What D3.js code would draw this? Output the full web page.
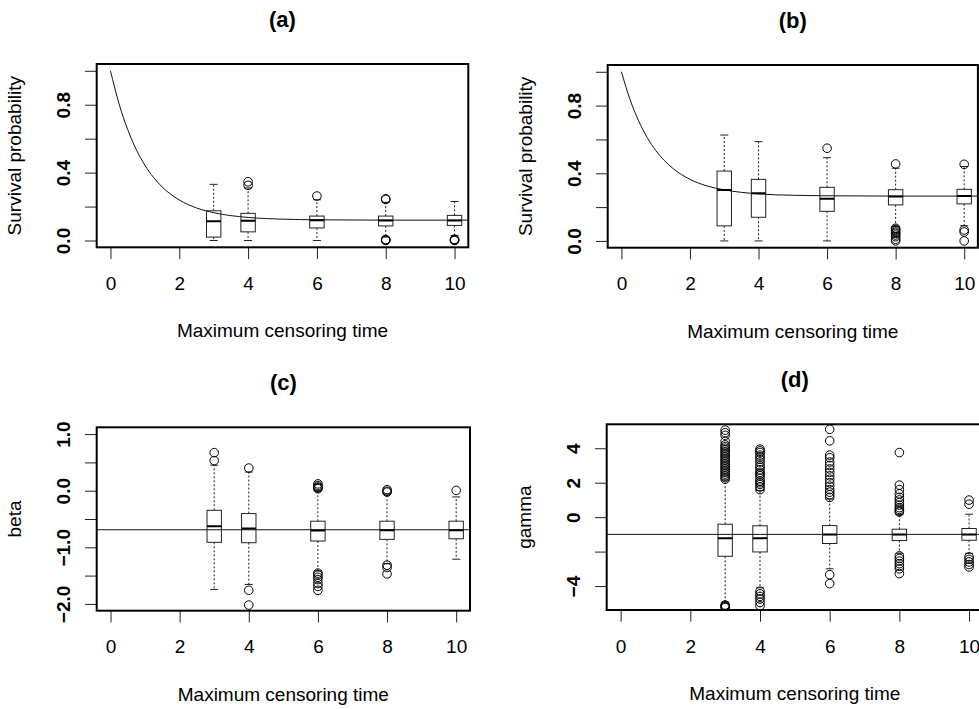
<!DOCTYPE html>
<html>
<head>
<meta charset="utf-8">
<script src="https://cdn.jsdelivr.net/npm/d3@7"></script>
<style>
  body { margin: 0; background: #fff; }
  svg { display: block; font-family: 'Liberation Sans', Arial, Helvetica, sans-serif; }
  .frame { fill: none; stroke: #000; stroke-width: 2; }
  .axis line { stroke: #222; stroke-width: 1; }
  .axis text { fill: #000; font-size: 19px; }
  .yaxis text { font-weight: bold; }
  .ref { fill: none; stroke: #111; stroke-width: 1; }
  .box rect { fill: none; stroke: #222; stroke-width: 1; }
  .box .median { stroke: #000; stroke-width: 2; }
  .box .whisker { stroke: #222; stroke-width: 1; stroke-dasharray: 2 2; }
  .box .cap { stroke: #222; stroke-width: 1; }
  .outlier { fill: none; stroke: #000; stroke-width: 1; }
  .title { font-size: 22px; font-weight: bold; text-anchor: middle; }
  .label { font-size: 19px; text-anchor: middle; }
</style>
</head>
<body>
<svg id="chart" width="979" height="709"></svg>
<script>
const censorTimes = [3, 4, 6, 8, 10];
const xTicks = [0, 2, 4, 6, 8, 10];

// true survival curves (a) and (b)
const curveTimes = [0, 0.25, 0.5, 0.75, 1, 1.25, 1.5, 2, 2.5, 3, 4, 5, 6, 8, 10.4];
const survACurve = [1.0, 0.805, 0.654, 0.536, 0.444, 0.372, 0.316, 0.239, 0.192, 0.164, 0.136, 0.126, 0.122, 0.12, 0.12];
const survBCurve = [1.0, 0.837, 0.711, 0.612, 0.535, 0.476, 0.429, 0.364, 0.325, 0.302, 0.278, 0.27, 0.267, 0.265, 0.265];

// true parameter values (horizontal lines)
const betaTrue = -0.69;
const gammaTrue = -1.0;

// box stats per censoring time: [lower whisker, q1, median, q3, upper whisker]
const survAStats = [
  [0.0, 0.02, 0.114, 0.175, 0.331],
  [0.0, 0.051, 0.116, 0.16, 0.31],
  [0.0, 0.074, 0.12, 0.144, 0.24],
  [0.02, 0.086, 0.118, 0.144, 0.225],
  [0.03, 0.089, 0.118, 0.148, 0.23]
];
const survAOutliers = [
  [],
  [0.325, 0.346],
  [0.262],
  [0.242, 0.246, 0.0, 0.003, 0.006],
  [0.0, 0.002, 0.004, 0.007]
];

const survBStats = [
  [0.0, 0.089, 0.301, 0.413, 0.626],
  [0.0, 0.14, 0.282, 0.364, 0.587],
  [0.0, 0.175, 0.25, 0.317, 0.492],
  [0.085, 0.213, 0.262, 0.303, 0.43],
  [0.09, 0.219, 0.266, 0.305, 0.44]
];
const survBOutliers = [
  [],
  [],
  [0.548],
  [0.455, 0.075, 0.068, 0.06, 0.052, 0.045, 0.035, 0.025, 0.01, 0.0],
  [0.453, 0.065, 0.053, 0.0]
];

const betaStats = [
  [-1.744, -0.912, -0.63, -0.346, 0.45],
  [-1.656, -0.919, -0.667, -0.404, 0.33],
  [-1.42, -0.889, -0.702, -0.539, 0.0],
  [-1.29, -0.86, -0.697, -0.539, -0.06],
  [-1.21, -0.849, -0.697, -0.539, -0.11]
];
const betaOutliers = [
  [0.532, 0.672],
  [0.40, -1.76, -2.02],
  [0.035, 0.05, 0.065, 0.09, 0.12, -1.456, -1.485, -1.53, -1.57, -1.64, -1.69, -1.76],
  [0.018, -0.01, -0.025, -1.316, -1.357, -1.47],
  [0.005]
];

const gammaStats = [
  [-4.93, -2.27, -1.22, -0.41, 2.15],
  [-4.1, -2.02, -1.22, -0.5, 1.55],
  [-3.0, -1.53, -1.01, -0.49, 1.05],
  [-2.1, -1.36, -1.01, -0.7, 0.15],
  [-2.1, -1.34, -1.01, -0.66, 0.17]
];
const gammaOutliers = [
  [5.05, 4.9, 4.75, 4.4, 4.2, 4.1, 4.0, 3.9, 3.8, 3.7, 3.6, 3.5, 3.4, 3.3, 3.2, 3.1, 3.0, 2.9, 2.8, 2.7, 2.6, 2.5, 2.4, 2.3, 2.2,
   -5.1, -5.15, -5.2, -5.25],
  [1.6, 1.75, 1.9, 2.0, 2.1, 2.25, 2.4, 2.5, 2.6, 2.75, 2.9, 3.0, 3.2, 3.35, 3.5, 3.6, 3.75, 3.85, 3.95,
   -4.3, -4.45, -4.6, -4.75, -4.95, -5.15],
  [5.1, 4.43, 3.6, 3.45, 3.2, 3.0, 2.8, 2.6, 2.4, 2.2, 2.0, 1.8, 1.6, 1.45, 1.3, 1.15, -3.34, -3.86],
  [3.75, 1.86, 1.6, 1.35, 1.15, 1.0, 0.85, 0.7, 0.55, 0.45, 0.35, 0.3, -2.25, -2.4, -2.55, -2.7, -2.85, -3.0, -3.28],
  [0.99, 0.75, -2.31, -2.45, -2.6, -2.75, -2.89]
];

// y ticks and the ones that carry a label
const survTicks = [0, 0.2, 0.4, 0.6, 0.8, 1.0];
const survTickLabels = [0, 0.4, 0.8];
const betaTicks = [-2, -1.5, -1, -0.5, 0, 0.5, 1];
const betaTickLabels = [-2, -1, 0, 1];
const gammaTicks = [-4, -2, 0, 2, 4];
const gammaTickLabels = [-4, 0, 2, 4];

const panels = [
  { tag: '(a)', left: 96.7, right: 468.3, top: 64, bottom: 247.3, yDomain: [-0.04, 1.04],
    yTitle: 'Survival probability', ticks: survTicks, tickLabels: survTickLabels, fmt: d3.format('.1f'),
    stats: survAStats, outliers: survAOutliers, curve: survACurve },
  { tag: '(b)', left: 607.7, right: 977.9, top: 65, bottom: 247.7, yDomain: [-0.04, 1.04],
    yTitle: 'Survival probability', ticks: survTicks, tickLabels: survTickLabels, fmt: d3.format('.1f'),
    stats: survBStats, outliers: survBOutliers, curve: survBCurve },
  { tag: '(c)', left: 96.7, right: 470, top: 427.3, bottom: 610.7, yDomain: [-2.12, 1.12],
    yTitle: 'beta', ticks: betaTicks, tickLabels: betaTickLabels, fmt: d3.format('.1f'),
    stats: betaStats, outliers: betaOutliers, refValue: betaTrue },
  { tag: '(d)', left: 606.7, right: 983, top: 424.3, bottom: 610, yDomain: [-5.39, 5.39],
    yTitle: 'gamma', ticks: gammaTicks, tickLabels: gammaTickLabels, fmt: d3.format('d'),
    stats: gammaStats, outliers: gammaOutliers, refValue: gammaTrue }
];

const svg = d3.select('#chart');
const defs = svg.append('defs');
const boxHalf = 7.2;
const capHalf = 4;

panels.forEach((p, i) => {
  const x = d3.scaleLinear().domain([-0.4, 10.4]).range([p.left, p.right]);
  const y = d3.scaleLinear().domain(p.yDomain).range([p.bottom, p.top]);
  const g = svg.append('g').attr('class', 'panel');

  defs.append('clipPath').attr('id', 'clip' + i)
    .append('rect')
    .attr('x', p.left).attr('y', p.top)
    .attr('width', p.right - p.left).attr('height', p.bottom - p.top);
  const plot = g.append('g').attr('clip-path', `url(#clip${i})`);

  // true curve or true value line
  if (p.curve) {
    const line = d3.line().x(d => x(d[0])).y(d => y(d[1])).curve(d3.curveMonotoneX);
    plot.append('path')
      .datum(curveTimes.map((t, k) => [t, p.curve[k]]))
      .attr('class', 'ref')
      .attr('d', line);
  } else {
    plot.append('line')
      .attr('class', 'ref')
      .attr('x1', p.left).attr('x2', p.right)
      .attr('y1', y(p.refValue)).attr('y2', y(p.refValue));
  }

  // boxplots
  const boxes = plot.selectAll('g.box')
    .data(p.stats.map((s, k) => ({ t: censorTimes[k], s, out: p.outliers[k] })))
    .join('g')
    .attr('class', 'box');

  boxes.append('line').attr('class', 'whisker')
    .attr('x1', d => x(d.t)).attr('x2', d => x(d.t))
    .attr('y1', d => y(d.s[3])).attr('y2', d => y(d.s[4]));
  boxes.append('line').attr('class', 'whisker')
    .attr('x1', d => x(d.t)).attr('x2', d => x(d.t))
    .attr('y1', d => y(d.s[1])).attr('y2', d => y(d.s[0]));
  boxes.selectAll('line.cap')
    .data(d => [d.s[0], d.s[4]].map(v => ({ t: d.t, v })))
    .join('line').attr('class', 'cap')
    .attr('x1', d => x(d.t) - capHalf).attr('x2', d => x(d.t) + capHalf)
    .attr('y1', d => y(d.v)).attr('y2', d => y(d.v));
  boxes.append('rect')
    .attr('x', d => x(d.t) - boxHalf).attr('width', boxHalf * 2)
    .attr('y', d => y(d.s[3])).attr('height', d => y(d.s[1]) - y(d.s[3]));
  boxes.append('line').attr('class', 'median')
    .attr('x1', d => x(d.t) - boxHalf).attr('x2', d => x(d.t) + boxHalf)
    .attr('y1', d => y(d.s[2])).attr('y2', d => y(d.s[2]));
  boxes.selectAll('circle')
    .data(d => d.out.map(v => ({ t: d.t, v })))
    .join('circle').attr('class', 'outlier')
    .attr('cx', d => x(d.t)).attr('cy', d => y(d.v)).attr('r', 4.3);

  // axes
  g.append('g')
    .attr('class', 'axis')
    .attr('transform', `translate(0, ${p.bottom})`)
    .call(d3.axisBottom(x).tickValues(xTicks).tickSize(11.7).tickFormat(d3.format('d')))
    .call(a => a.select('.domain').remove())
    .call(a => a.selectAll('text').attr('y', 42.7).attr('dy', null));

  g.append('g')
    .attr('class', 'axis yaxis')
    .attr('transform', `translate(${p.left}, 0)`)
    .call(d3.axisLeft(y).tickValues(p.ticks).tickSize(11.7).tickFormat(p.fmt))
    .call(a => a.select('.domain').remove())
    .call(a => a.selectAll('.tick')
      .filter(d => !p.tickLabels.some(v => Math.abs(v - d) < 1e-9))
      .select('text').remove())
    .call(a => a.selectAll('text')
      .attr('x', null).attr('dy', null)
      .attr('text-anchor', 'middle')
      .attr('transform', 'translate(-27, 0) rotate(-90)'));

  // frame
  g.append('rect')
    .attr('class', 'frame')
    .attr('x', p.left).attr('y', p.top)
    .attr('width', p.right - p.left).attr('height', p.bottom - p.top);

  const cx = (p.left + p.right) / 2;
  const cy = (p.top + p.bottom) / 2;
  g.append('text').attr('class', 'title')
    .attr('x', cx).attr('y', p.top - 37).text(p.tag);
  g.append('text').attr('class', 'label')
    .attr('x', cx).attr('y', p.bottom + 90).text('Maximum censoring time');
  g.append('text').attr('class', 'label')
    .attr('transform', `translate(${p.left - 76}, ${cy}) rotate(-90)`)
    .text(p.yTitle);
});
</script>
</body>
</html>
